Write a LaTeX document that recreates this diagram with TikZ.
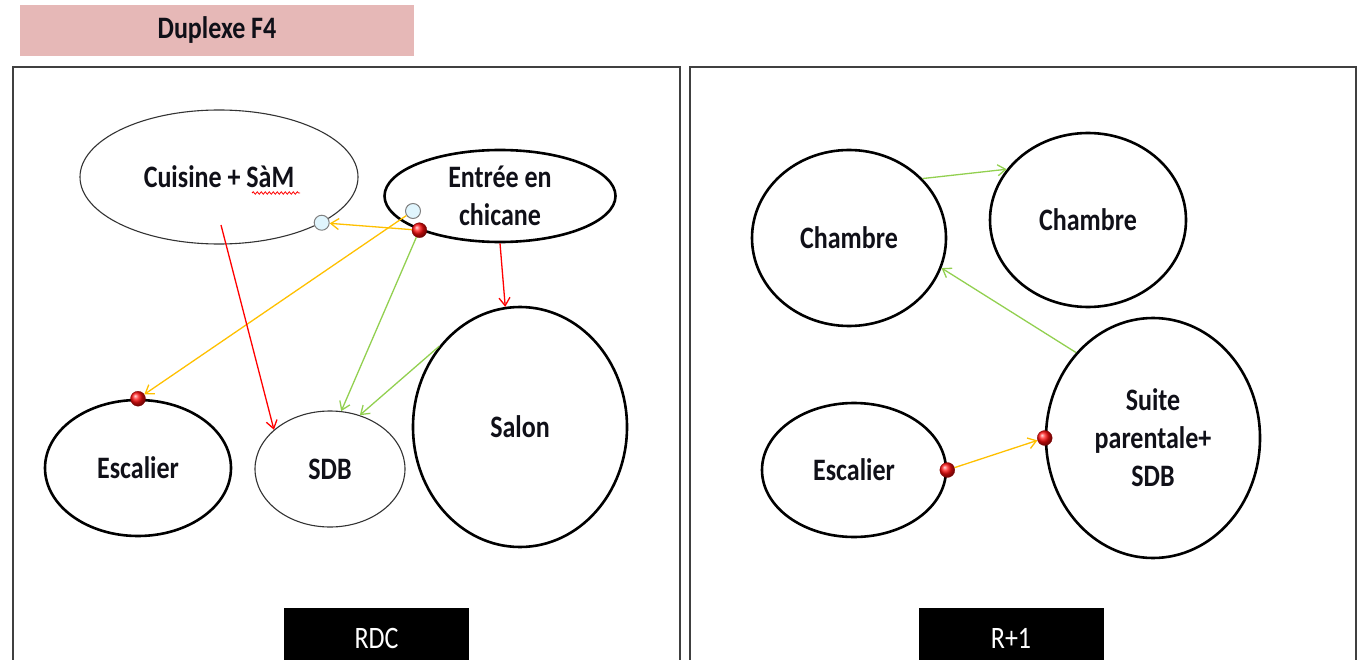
\documentclass[tikz,border=0pt]{standalone}
\usepackage{graphicx}
\usepackage{fontspec}
\setmainfont{Carlito}
\usetikzlibrary{shapes.geometric,arrows.meta,decorations.pathmorphing}
\definecolor{pinkbg}{HTML}{E6B8B7}
\definecolor{yel}{HTML}{FFC000}
\definecolor{grn}{HTML}{92D050}
\definecolor{redl}{HTML}{FF0000}
\definecolor{txt}{HTML}{101018}
\newcommand{\tall}[1]{\scalebox{1}[1.2]{#1}}
\begin{document}
\begin{tikzpicture}[x=1pt,y=-1pt,
  room/.style={ellipse, draw=black, line width=2.6pt, inner sep=0pt, text=txt,
    font=\bfseries\fontsize{26}{38}\selectfont, align=center},
  thinroom/.style={room, line width=1.1pt, draw=black!80},
  reddot/.style={circle, minimum size=15pt, inner sep=0pt, ball color=red!95!white, draw=red!50!black, line width=0.3pt},
  bluedot/.style={circle, minimum size=15pt, inner sep=0pt, fill=cyan!12, draw=gray, line width=1pt},
  conn/.style={line width=1.3pt, -{Straight Barb[length=8pt,width=11pt]}},
  yconn/.style={conn, draw=yel},
  gconn/.style={conn, draw=grn},
  rconn/.style={conn, draw=redl},
  panel/.style={draw=black!75, line width=2.2pt},
  tag/.style={fill=black, text=white, font=\fontsize{26}{30}\selectfont, minimum width=185pt, minimum height=60pt, inner sep=0pt}
]
\useasboundingbox (0,0) rectangle (1364,660);

% title
\node[fill=pinkbg, minimum width=394pt, minimum height=51pt, inner sep=0pt,
  font=\bfseries\fontsize{26}{30}\selectfont, text=txt] (title) at (217,30.5) {\tall{Duplexe F4}};

% panels
\draw[panel] (13,662) -- (13,67) -- (680,67) -- (680,662);
\draw[panel] (690,662) -- (690,67) -- (1356,67) -- (1356,662);

% level tags
\node[tag, anchor=north] (rdc) at (376.5,608) {\tall{RDC}};
\node[tag, anchor=north] (r1) at (1011,608) {\tall{R+1}};

% RDC rooms
\node[thinroom, minimum width=278pt, minimum height=134pt] (cuisine) at (219,177) {\tall{Cuisine + SàM}};
\draw[redl, line width=0.8pt, decorate, decoration={snake, amplitude=1.2pt, segment length=4pt}]
  (252,193) -- (300,193);
\node[room, minimum width=231pt, minimum height=92pt] (entree) at (500,196) {\tall{Entrée en}\\\tall{chicane}};
\node[room, minimum width=214pt, minimum height=240pt] (salon) at (520,427) {\tall{Salon}};
\node[room, minimum width=186pt, minimum height=136pt] (escL) at (138,468) {\tall{Escalier}};
\node[thinroom, minimum width=150pt, minimum height=116pt] (sdb) at (330,469) {\tall{SDB}};

% R+1 rooms
\node[room, minimum width=194pt, minimum height=176pt] (ch1) at (849,238) {\tall{Chambre}};
\node[room, minimum width=196pt, minimum height=174pt] (ch2) at (1088,220) {\tall{Chambre}};
\node[room, minimum width=184pt, minimum height=134pt] (escR) at (854,470) {\tall{Escalier}};
\node[room, minimum width=214pt, minimum height=240pt] (suite) at (1153,438) {\tall{Suite}\\\tall{parentale+}\\\tall{SDB}};

% dots
\node[bluedot] (bc) at (cuisine.-24) {};
\node[bluedot] (be) at (413,211) {};
\node[reddot] (re) at (entree.203) {};
\node[reddot] (rl) at (escL.north) {};
\node[reddot] (rr) at (escR.east) {};
\node[reddot] (rs) at (suite.west) {};
\coordinate (cs) at (221,225);

% RDC connectors
\draw[yconn] (re) -- (bc);
\draw[yconn] (be) -- (rl);
\draw[rconn] (cs) -- (sdb.145);
\draw[rconn] (entree.south) -- (salon.97);
\draw[gconn] (re) -- (sdb.79);
\draw[gconn] (salon.135) -- (sdb.61);

% R+1 connectors
\draw[gconn] (ch1.39) -- (ch2.148);
\draw[gconn] (suite.132) -- (ch1.-18);
\draw[yconn] (rr) -- (rs);
\end{tikzpicture}
\end{document}
